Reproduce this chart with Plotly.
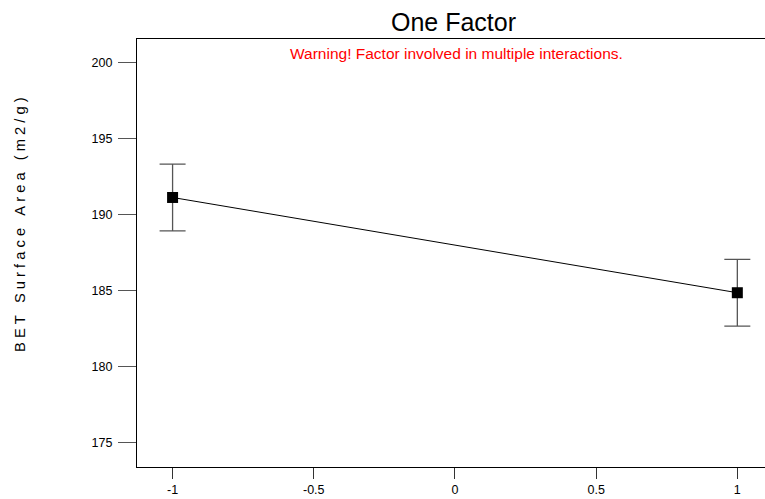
import plotly.graph_objects as go

x_levels = [-1, 1]
y_means = [191.12, 184.85]
err_half = [2.2, 2.2]
x_ticks = [-1, -0.5, 0, 0.5, 1]
x_tick_labels = ["-1", "-0.5", "0", "0.5", "1"]
y_ticks = [175, 180, 185, 190, 195, 200]
y_tick_labels = ["175", "180", "185", "190", "195", "200"]

FONT = "Liberation Sans, Arial, sans-serif"
W, H = 765, 499
ML, MR, MT, MB = 137, 0, 39, 32

fig = go.Figure()
fig.add_trace(go.Scatter(
    x=x_levels, y=y_means, mode="lines+markers",
    line=dict(color="black", width=1),
    marker=dict(symbol="square", size=11, color="black"),
    error_y=dict(type="data", array=err_half, visible=True,
                 color="#555555", thickness=1.3, width=13),
    showlegend=False, hoverinfo="x+y",
))

pw = W - ML - MR
ph = H - MT - MB
def px_to_paper(xp, yp):
    return (xp - ML) / pw, (H - MB - yp) / ph

NB = "\u00a0"
ylabel = "B E T   S u r f a c e   A r e a   ( m 2 / g )".replace(" ", NB)
texts = [
    ("One Factor", 453, 22, 25, "black", 0),
    ("Warning! Factor involved in multiple interactions.", 456, 54, 15.5, "#ff0000", 0),
    (ylabel, 20, 225, 14.7, "black", -90),
]
annotations = []
for t, xp, yp, sz, col, ang in texts:
    px, py = px_to_paper(xp, yp)
    annotations.append(dict(text=t, x=px, y=py, xref="paper", yref="paper",
                            xanchor="center", yanchor="middle", showarrow=False,
                            textangle=ang, font=dict(size=sz, family=FONT, color=col)))

fig.update_layout(
    width=W, height=H,
    margin=dict(l=ML, r=MR, t=MT, b=MB),
    paper_bgcolor="white", plot_bgcolor="white",
    font=dict(family=FONT, color="black", size=12.5),
    xaxis=dict(range=[-1.126, 1.098], tickvals=x_ticks, ticktext=x_tick_labels,
               showgrid=False, zeroline=False, showline=True, linecolor="black",
               linewidth=1.3, mirror=True, ticks="outside", ticklen=11,
               tickcolor="#333333", tickwidth=1, tickfont=dict(size=12.5)),
    yaxis=dict(range=[173.38, 201.55], tickvals=y_ticks, ticktext=y_tick_labels,
               showgrid=False, zeroline=False, showline=True, linecolor="black",
               linewidth=1.3, ticks="outside", ticklen=18, ticklabelstandoff=3,
               tickcolor="#555555", tickwidth=1, tickfont=dict(size=12.5)),
    annotations=annotations,
)

fig.write_html("out.html", config={"displayModeBar": False},
               post_script="document.body.style.margin='0';document.body.style.overflow='hidden';")
